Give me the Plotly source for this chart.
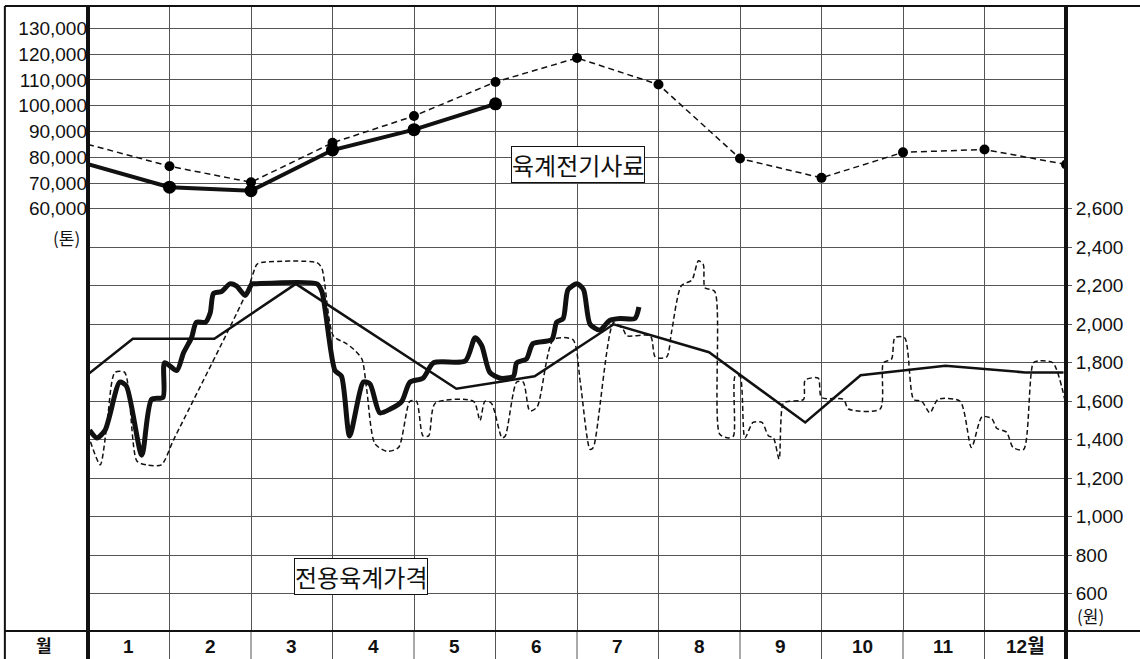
import plotly.graph_objects as go

# ---------------- data ----------------
# feed production (tons), positions are month index (0 = start of Jan, 12 = end of Dec)
feed_x = [0, 1, 2, 3, 4, 5, 6, 7, 8, 9, 10, 11, 12]
feed_prev = [85000, 76500, 70300, 85600, 96000, 109200, 118500, 108200, 79500, 72000, 81900, 83000, 77200]
feed_cur_x = [0, 1, 2, 3, 4, 5]
feed_cur = [77300, 68400, 67000, 82800, 90700, 100700]

# monthly average price (won)
avg_x = [0, 0.55, 1.55, 2.55, 4.52, 5.48, 6.45, 7.62, 8.8, 9.48, 10.52, 11.5, 11.97]
avg_price = [1740, 1925, 1925, 2210, 1665, 1730, 2000, 1855, 1490, 1735, 1785, 1750, 1750]

# current-year daily price (won)
cur_x = [0.02, 0.11, 0.21, 0.39, 0.47, 0.66, 0.78, 0.92, 0.94, 1.09, 1.17, 1.27, 1.33, 1.44,
         1.50, 1.54, 1.64, 1.74, 1.82, 1.93, 2.01, 2.03, 2.81, 2.87, 3.03, 3.11, 3.21, 3.38,
         3.46, 3.58, 3.71, 3.85, 3.95, 4.11, 4.24, 4.63, 4.75, 4.83, 4.93, 5.06, 5.22, 5.26,
         5.38, 5.46, 5.69, 5.75, 5.83, 5.89, 6.00, 6.08, 6.16, 6.28, 6.40, 6.53, 6.71, 6.76]
cur_price = [1450, 1410, 1450, 1700, 1680, 1320, 1610, 1620, 1800, 1760, 1850, 1930, 2010, 2010,
             2060, 2160, 2170, 2210, 2200, 2150, 2210, 2210, 2210, 2170, 1760, 1730, 1420, 1700,
             1690, 1540, 1560, 1600, 1700, 1720, 1800, 1810, 1930, 1890, 1750, 1720, 1730, 1800,
             1820, 1900, 1920, 2010, 2030, 2180, 2210, 2180, 2000, 1970, 2020, 2030, 2030, 2090]

# previous-year daily price (won)
prev_x = [0.03, 0.15, 0.23, 0.33, 0.45, 0.60, 0.72, 0.90, 1.05, 1.95, 2.07, 2.11, 2.81, 2.87,
          3.01, 3.17, 3.26, 3.36, 3.42, 3.52, 3.67, 3.81, 3.95, 4.03, 4.11, 4.18, 4.26, 4.73,
          4.81, 4.87, 4.95, 5.08, 5.12, 5.26, 5.34, 5.42, 5.51, 5.71, 5.95, 6.04, 6.16, 6.20,
          6.45, 6.57, 6.61, 6.90, 6.96, 7.10, 7.16, 7.28, 7.41, 7.49, 7.55, 7.57, 7.69, 7.75,
          7.86, 7.92, 7.94, 8.00, 8.06, 8.16, 8.27, 8.35, 8.41, 8.48, 8.53, 8.61, 8.78, 8.80,
          8.96, 9.00, 9.27, 9.33, 9.72, 9.76, 9.86, 9.90, 10.02, 10.13, 10.23, 10.33, 10.43,
          10.70, 10.84, 10.97, 11.09, 11.15, 11.27, 11.35, 11.48, 11.60, 11.68, 11.84, 11.99]
prev_price = [1390, 1270, 1470, 1750, 1750, 1290, 1270, 1270, 1400, 2170, 2310, 2320, 2320, 2290,
              1940, 1900, 1870, 1820, 1660, 1380, 1340, 1360, 1600, 1600, 1420, 1420, 1590, 1600,
              1500, 1600, 1590, 1410, 1420, 1700, 1700, 1550, 1570, 1920, 1920, 1700, 1350, 1360,
              2010, 1970, 1940, 1940, 1830, 1830, 1960, 2200, 2230, 2330, 2310, 2190, 2170, 1430,
              1410, 1420, 1730, 1730, 1410, 1490, 1490, 1420, 1410, 1300, 1590, 1600, 1610, 1710,
              1720, 1620, 1610, 1560, 1560, 1800, 1820, 1930, 1930, 1610, 1600, 1540, 1610,
              1600, 1360, 1520, 1510, 1460, 1440, 1360, 1350, 1800, 1810, 1800, 1600]

ton_ticks = [60000, 70000, 80000, 90000, 100000, 110000, 120000, 130000]
won_ticks = [600, 800, 1000, 1200, 1400, 1600, 1800, 2000, 2200, 2400, 2600]
month_labels = ["1", "2", "3", "4", "5", "6", "7", "8", "9", "10", "11", "12월"]

FONT = "Liberation Sans, Arial, Noto Sans CJK KR, sans-serif"
KFONT = "Noto Sans CJK KR, Liberation Sans, sans-serif"
INK = "#111111"
GRID = "#555555"

fig = go.Figure()

# price series (right axis)
fig.add_trace(go.Scatter(x=prev_x, y=prev_price, yaxis="y2", mode="lines",
                         line=dict(color=INK, width=1.5, dash="5px,3px", shape="spline", smoothing=0.7),
                         showlegend=False, hoverinfo="skip"))
fig.add_trace(go.Scatter(x=avg_x, y=avg_price, yaxis="y2", mode="lines",
                         line=dict(color=INK, width=2.5), showlegend=False, hoverinfo="skip"))
fig.add_trace(go.Scatter(x=cur_x, y=cur_price, yaxis="y2", mode="lines",
                         line=dict(color=INK, width=5, shape="spline", smoothing=0.7),
                         showlegend=False, hoverinfo="skip"))

# feed series (left axis)
fig.add_trace(go.Scatter(x=feed_x, y=feed_prev, yaxis="y", mode="lines+markers",
                         line=dict(color=INK, width=1.5, dash="6px,4px"),
                         marker=dict(color="black", size=[0] + [10] * (len(feed_x) - 1),
                                     line=dict(width=0), opacity=1),
                         showlegend=False, hoverinfo="skip"))
fig.add_trace(go.Scatter(x=feed_cur_x, y=feed_cur, yaxis="y", mode="lines+markers",
                         line=dict(color=INK, width=4),
                         marker=dict(color="black", size=[0] + [13] * (len(feed_cur_x) - 1),
                                     line=dict(width=0), opacity=1),
                         showlegend=False, hoverinfo="skip"))

shapes = []
# vertical separators in month band
for m in range(1, 12):
    shapes.append(dict(type="line", xref="x", yref="paper", x0=m, x1=m, y0=-0.045, y1=0,
                       line=dict(color=GRID, width=1)))
# frame lines
shapes += [
    dict(type="line", xref="paper", yref="paper", x0=-0.085, x1=1.08, y0=1, y1=1, line=dict(color=INK, width=2)),
    dict(type="line", xref="paper", yref="paper", x0=-0.085, x1=1.08, y0=0, y1=0, line=dict(color=INK, width=2)),
    dict(type="line", xref="paper", yref="paper", x0=-0.085, x1=-0.085, y0=-0.05, y1=1, line=dict(color=INK, width=2)),
    dict(type="line", xref="paper", yref="paper", x0=0, x1=0, y0=-0.05, y1=1, line=dict(color=INK, width=4)),
    dict(type="line", xref="paper", yref="paper", x0=1, x1=1, y0=-0.05, y1=1, line=dict(color=INK, width=4)),
]

annotations = []
for i, lab in enumerate(month_labels):
    annotations.append(dict(x=i + 0.5, y=-0.024, xref="x", yref="paper", text="<b>" + lab + "</b>",
                            showarrow=False, font=dict(family=FONT, size=19, color=INK), yanchor="middle"))
annotations.append(dict(x=-0.045, y=-0.022, xref="paper", yref="paper", text="<b>월</b>", showarrow=False,
                        font=dict(family=KFONT, size=17, color=INK), yanchor="middle", xanchor="center"))
annotations.append(dict(x=-0.006, y=(631 - 238) / 625, xref="paper", yref="paper", text="(톤)",
                        showarrow=False, xanchor="right", yanchor="middle",
                        font=dict(family=KFONT, size=17, color=INK)))
annotations.append(dict(x=1.009, y=(631 - 615) / 625, xref="paper", yref="paper", text="(원)",
                        showarrow=False, xanchor="left", yanchor="middle",
                        font=dict(family=KFONT, size=17, color=INK)))
annotations.append(dict(x=0.501, y=(631 - 164) / 625, xref="paper", yref="paper", text="육계전기사료",
                        showarrow=False, xanchor="center", yanchor="middle", bgcolor="white",
                        bordercolor=INK, borderwidth=1, borderpad=0,
                        font=dict(family=KFONT, size=24, color=INK)))
annotations.append(dict(x=0.279, y=(631 - 576) / 625, xref="paper", yref="paper", text="전용육계가격",
                        showarrow=False, xanchor="center", yanchor="middle", bgcolor="white",
                        bordercolor=INK, borderwidth=1, borderpad=0,
                        font=dict(family=KFONT, size=24, color=INK)))

fig.update_layout(
    width=1140, height=659,
    margin=dict(l=88, r=74, t=6, b=28),
    paper_bgcolor="white", plot_bgcolor="white",
    xaxis=dict(range=[0, 12], tickvals=list(range(1, 12)), showticklabels=False, showgrid=True,
               gridcolor=GRID, gridwidth=1, zeroline=False, showline=False, ticks=""),
    yaxis=dict(range=[-103707, 138647], tickvals=ton_ticks, tickformat=",d", showgrid=True,
               gridcolor=GRID, gridwidth=1, zeroline=False, showline=False, ticks="",
               tickfont=dict(family=FONT, size=19, color=INK)),
    yaxis2=dict(range=[407, 3653], tickvals=won_ticks, tickformat=",d", overlaying="y", side="right",
                showgrid=True, gridcolor=GRID, gridwidth=1, zeroline=False, showline=False,
                ticks="outside", ticklen=5, tickcolor=GRID,
                tickfont=dict(family=FONT, size=19, color=INK)),
    shapes=shapes, annotations=annotations,
)

fig.write_html("out.html", config={"displayModeBar": False},
               post_script="document.body.style.margin='0';document.body.style.padding='0';")
